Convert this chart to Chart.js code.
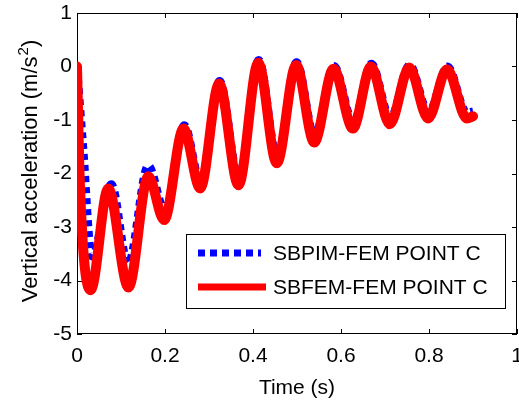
<!DOCTYPE html>
<html>
<head>
<meta charset="utf-8">
<script src="https://cdn.jsdelivr.net/npm/chart.js@4.4.0/dist/chart.umd.min.js"></script>
<style>
  html, body { margin: 0; padding: 0; background: #fff; }
</style>
</head>
<body>
<canvas id="chart" width="519" height="402"></canvas>
<script>
// tick values
const xTicks = [0, 0.2, 0.4, 0.6, 0.8, 1];
const yTicks = [-5, -4, -3, -2, -1, 0, 1];

// SBPIM-FEM (blue, dotted)
const timeBlue = [0, 0.014, 0.034, 0.078, 0.116, 0.162, 0.2, 0.244, 0.281, 0.324, 0.368, 0.413, 0.455, 0.499, 0.54, 0.584, 0.628, 0.669, 0.712, 0.756, 0.799, 0.842, 0.886, 0.9];
const accelBlue = [0, -1.5, -3.55, -2.2, -3.68, -1.85, -2.7, -1.1, -2.16, -0.27, -2.1, 0.12, -1.69, 0.08, -1.3, 0.01, -1.04, 0.05, -0.96, 0.03, -0.86, 0.0, -0.86, -0.84];

// SBFEM-FEM (red, solid)
const timeRed = [0, 0.007, 0.031, 0.071, 0.117, 0.162, 0.198, 0.242, 0.28, 0.323, 0.367, 0.412, 0.454, 0.498, 0.539, 0.583, 0.627, 0.668, 0.711, 0.755, 0.798, 0.841, 0.886, 0.9];
const accelRed = [0, -2.3, -4.18, -2.28, -4.13, -2.05, -2.87, -1.16, -2.28, -0.32, -2.22, 0.07, -1.81, 0.03, -1.42, -0.04, -1.16, 0.0, -1.08, -0.02, -0.97, -0.05, -0.97, -0.93];

const yTitle = ['Vertical acceleration (m/s', '2', ')'];

const FONT = '"Liberation Sans", Arial, sans-serif';

function toPoints(xs, ys) {
  return xs.map((t, i) => ({ x: t, y: ys[i] }));
}

// box, inward ticks, y title and legend like the matlab figure
const framePlugin = {
  id: 'frame',
  beforeDatasetsDraw(chart) {
    const { ctx, chartArea: a, scales: { x, y } } = chart;
    ctx.save();
    ctx.strokeStyle = '#000';
    ctx.lineWidth = 1;
    ctx.strokeRect(a.left + 0.5, a.top + 0.5, a.right - a.left - 1, a.bottom - a.top - 1);
    ctx.beginPath();
    xTicks.forEach(v => {
      const px = Math.round(x.getPixelForValue(v)) + 0.5;
      ctx.moveTo(px, a.bottom); ctx.lineTo(px, a.bottom - 5);
      ctx.moveTo(px, a.top); ctx.lineTo(px, a.top + 5);
    });
    yTicks.forEach(v => {
      const py = Math.round(y.getPixelForValue(v)) + 0.5;
      ctx.moveTo(a.left, py); ctx.lineTo(a.left + 5, py);
      ctx.moveTo(a.right, py); ctx.lineTo(a.right - 5, py);
    });
    ctx.stroke();

    // y axis title with a raised 2
    const big = '22px ' + FONT, small = '15px ' + FONT;
    ctx.font = big;
    const w1 = ctx.measureText(yTitle[0]).width;
    const w3 = ctx.measureText(yTitle[2]).width;
    ctx.font = small;
    const w2 = ctx.measureText(yTitle[1]).width + 1;
    const total = w1 + w2 + w3;
    ctx.translate(37, 171);
    ctx.rotate(-Math.PI / 2);
    ctx.fillStyle = '#000';
    ctx.textBaseline = 'alphabetic';
    ctx.font = big;
    ctx.fillText(yTitle[0], -total / 2, 0);
    ctx.font = small;
    ctx.fillText(yTitle[1], -total / 2 + w1 + 1, -9);
    ctx.font = big;
    ctx.fillText(yTitle[2], -total / 2 + w1 + w2, 0);
    ctx.restore();
  },
  afterDraw(chart) {
    const ctx = chart.ctx;
    const ds = chart.data.datasets;
    ctx.save();
    ctx.fillStyle = '#fff';
    ctx.fillRect(186, 234, 319, 74);
    ctx.strokeStyle = '#000';
    ctx.lineWidth = 1;
    ctx.strokeRect(186.5, 234.5, 319, 74);

    const rows = [253, 287];
    ds.forEach((d, i) => {
      ctx.beginPath();
      ctx.strokeStyle = d.borderColor;
      ctx.lineWidth = 7;
      ctx.setLineDash(i === 0 ? [7, 5] : []);
      ctx.lineCap = 'butt';
      ctx.moveTo(198, rows[i]);
      ctx.lineTo(i === 0 ? 261 : 266, rows[i]);
      ctx.stroke();
      ctx.setLineDash([]);
      ctx.fillStyle = '#000';
      ctx.font = '21px ' + FONT;
      ctx.textBaseline = 'middle';
      ctx.fillText(d.label, 273, rows[i] + 1);
    });
    ctx.restore();
  }
};

const ctx = document.getElementById('chart').getContext('2d');

new Chart(ctx, {
  type: 'line',
  data: {
    datasets: [
      {
        label: 'SBPIM-FEM POINT C',
        data: toPoints(timeBlue, accelBlue),
        borderColor: '#0000ff',
        borderWidth: 8,
        borderDash: [6, 5],
        borderCapStyle: 'butt',
        cubicInterpolationMode: 'monotone',
        pointRadius: 0,
        fill: false,
        clip: 0,
        order: 2
      },
      {
        label: 'SBFEM-FEM POINT C',
        data: toPoints(timeRed, accelRed),
        borderColor: '#ff0000',
        borderWidth: 10,
        borderJoinStyle: 'round',
        borderCapStyle: 'round',
        cubicInterpolationMode: 'monotone',
        pointRadius: 0,
        fill: false,
        clip: 0,
        order: 1
      }
    ]
  },
  options: {
    responsive: false,
    animation: false,
    layout: {
      autoPadding: false,
      padding: { top: 13, right: 2, left: 0, bottom: 0 }
    },
    plugins: {
      legend: { display: false },
      tooltip: { enabled: false }
    },
    scales: {
      x: {
        type: 'linear',
        min: 0,
        max: 1,
        afterFit: s => {
          s.height = 68;
          s.paddingLeft = 0;
          s.paddingRight = 0;
        },
        afterBuildTicks: s => { s.ticks = xTicks.map(v => ({ value: v })); },
        grid: { display: false, drawTicks: false },
        border: { display: false },
        ticks: {
          color: '#000',
          font: { family: FONT, size: 21 },
          padding: 10,
          maxRotation: 0,
          callback: v => String(v)
        },
        title: {
          display: true,
          text: 'Time (s)',
          color: '#000',
          font: { family: FONT, size: 21 },
          padding: { top: 0, bottom: 1 }
        }
      },
      y: {
        type: 'linear',
        min: -5,
        max: 1,
        afterFit: s => {
          s.width = 77;
          s.paddingTop = 0;
          s.paddingBottom = 0;
        },
        afterBuildTicks: s => { s.ticks = yTicks.map(v => ({ value: v })); },
        grid: { display: false, drawTicks: false },
        border: { display: false },
        ticks: {
          color: '#000',
          font: { family: FONT, size: 21 },
          padding: 5,
          callback: v => String(v)
        },
        title: { display: false }
      }
    }
  },
  plugins: [framePlugin]
});
</script>
</body>
</html>
